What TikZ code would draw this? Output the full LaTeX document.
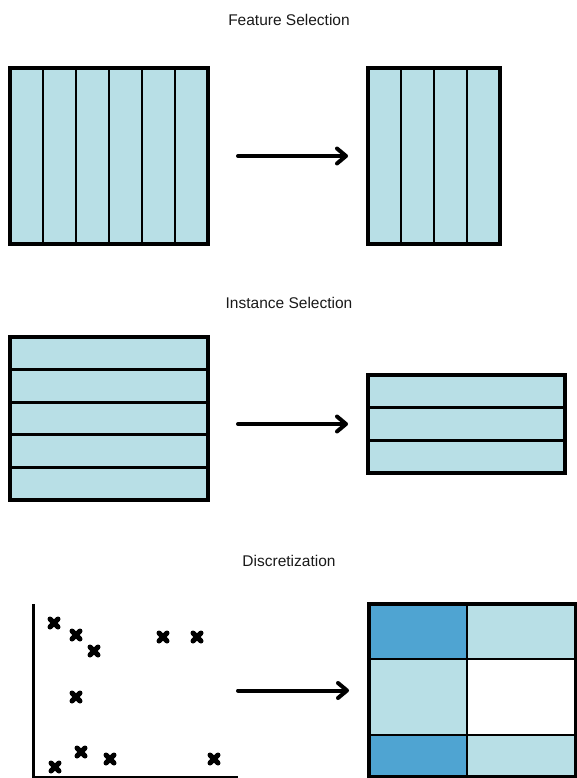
\documentclass[tikz,border=0pt]{standalone}
\usepackage{fontspec}
\setmainfont{Liberation Sans}
\usetikzlibrary{arrows.meta,calc,positioning}

\definecolor{cellblue}{HTML}{B8DFE6}
\definecolor{darkcell}{HTML}{4FA4D2}

\tikzset{
	table/.style={draw=black, fill=cellblue, line width=3.4pt, inner sep=0pt, outer sep=0pt},
	divider/.style={line width=2.8pt},
	trans/.style={line width=4pt, line cap=round,
		-{Straight Barb[length=9pt,width=15pt,line cap=round,line join=round]}},
	heading/.style={font=\fontsize{15.5}{18}\selectfont, text=black!90},
	axis/.style={line width=3pt},
	xmark/.pic={\draw[line width=5pt, line cap=round] (-4,-4) -- (4,4) (-4,4) -- (4,-4);},
}

\begin{document}
\begin{tikzpicture}[x=1pt, y=-1pt]
	\useasboundingbox (0,0) rectangle (576,778);
	
	% feature selection
	\node[heading] (fstitle) at (289,20) {Feature Selection};
	\node[table, minimum width=198pt, minimum height=176pt, anchor=north west] (fsL) at (10,68) {};
	\node[table, minimum width=132pt, minimum height=176pt, anchor=north west] (fsR) at (368,68) {};
	\foreach \i in {1,...,5}
		\draw[divider] ($(fsL.north west)!\i/6!(fsL.north east)$) -- ($(fsL.south west)!\i/6!(fsL.south east)$);
	\foreach \i in {1,...,3}
		\draw[divider] ($(fsR.north west)!\i/4!(fsR.north east)$) -- ($(fsR.south west)!\i/4!(fsR.south east)$);
	\draw[trans] ([xshift=30pt]fsL.east) -- ([xshift=-20pt]fsR.west);
	
	% instance selection
	\node[heading] (istitle) at (289,303) {Instance Selection};
	\node[table, minimum width=198pt, minimum height=163pt, anchor=north west] (isL) at (10,337) {};
	\node[table, minimum width=197pt, minimum height=98pt, anchor=north west] (isR) at (368,375) {};
	\foreach \i in {1,...,4}
		\draw[divider] ($(isL.north west)!\i/5!(isL.south west)$) -- ($(isL.north east)!\i/5!(isL.south east)$);
	\foreach \i in {1,2}
		\draw[divider] ($(isR.north west)!\i/3!(isR.south west)$) -- ($(isR.north east)!\i/3!(isR.south east)$);
	\draw[trans] ([xshift=30pt]isL.east |- isR.west) -- ([xshift=-20pt]isR.west);
	
	% discretization
	\node[heading] (dztitle) at (289,561) {Discretization};
	\coordinate (origin) at (33,777);
	\coordinate (ytop) at (33,604);
	\coordinate (xend) at (238,777);
	\draw[axis] (ytop) -- (origin) -- (xend);
	\foreach \px/\py in {54/623, 76/635, 94/651, 163/637, 197/637, 76/697, 81/752, 110/759, 55/767, 214/759}
		\pic at (\px,\py) {xmark};
	
	\node[table, minimum width=207pt, minimum height=173pt, anchor=north west] (dzgrid) at (369,604) {};
	\fill[darkcell] (369,604) rectangle (467,659);
	\fill[darkcell] (369,735) rectangle (467,777);
	\fill[white] (467,659) rectangle (576,735);
	\draw[divider] (467,604) -- (467,777);
	\draw[divider] (369,659) -- (576,659);
	\draw[divider] (369,735) -- (576,735);
	\draw[line width=3.4pt] (dzgrid.north west) rectangle (dzgrid.south east);
	\coordinate (plotend) at (xend |- dzgrid.west);
	\draw[trans] (plotend) -- ([xshift=-20pt]dzgrid.west);
\end{tikzpicture}
\end{document}
